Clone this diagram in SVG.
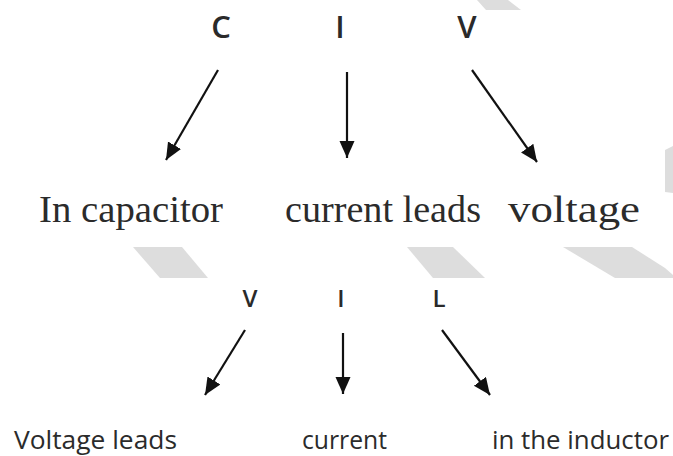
<svg xmlns="http://www.w3.org/2000/svg" width="673" height="456" viewBox="0 0 673 456">
<style>
.wm{fill:#dddddd}
.lbl{font-family:"Open Sans","Liberation Sans",sans-serif;font-weight:600;fill:#2a2a2a;text-anchor:middle}
.top{font-size:31px}
.bot{font-size:24px}
.ser{font-family:"Liberation Serif","DejaVu Serif",serif;font-size:38px;fill:#2b2b2b}
.san{font-family:"Open Sans","Liberation Sans",sans-serif;font-size:26px;fill:#2b2b2b}
.arr{stroke:#111;stroke-width:2.2;fill:none;marker-end:url(#ah)}
</style>
<defs>
<marker id="ah" markerUnits="userSpaceOnUse" markerWidth="19" markerHeight="17" refX="17" refY="7.5" orient="auto">
<path d="M0,0 L17,7.5 L0,15 z" fill="#111"/>
</marker>
</defs>
<rect width="673" height="456" fill="#ffffff"/>
<g id="watermark">
<polygon class="wm" points="477,0 508,0 521,10 486,10"/>
<polygon class="wm" points="665,150 673,146 673,193 665,192"/>
<polygon class="wm" points="133,247 182,247 208,278 160,278"/>
<polygon class="wm" points="407,247 453,247 485,278 433,278"/>
<polygon class="wm" points="563,247 632,247 665,268 673,275 673,278 615,278"/>
</g>
<g id="node-C"><text class="lbl top" x="221" y="38">C</text></g>
<g id="node-I1"><text class="lbl top" x="340" y="38">I</text></g>
<g id="node-V1"><text class="lbl top" x="467" y="38">V</text></g>
<g id="node-in-capacitor"><text class="ser" x="39" y="222" textLength="184" lengthAdjust="spacingAndGlyphs">In capacitor</text></g>
<g id="node-current-leads"><text class="ser" x="285" y="222" textLength="196" lengthAdjust="spacingAndGlyphs">current leads</text></g>
<g id="node-voltage"><text class="ser" x="508" y="222" textLength="132" lengthAdjust="spacingAndGlyphs">voltage</text></g>
<g id="node-V2"><text class="lbl bot" x="250" y="307">V</text></g>
<g id="node-I2"><text class="lbl bot" x="341" y="307">I</text></g>
<g id="node-L"><text class="lbl bot" x="439" y="307">L</text></g>
<g id="node-voltage-leads"><text class="san" x="14" y="449" textLength="163" lengthAdjust="spacingAndGlyphs">Voltage leads</text></g>
<g id="node-current"><text class="san" x="302" y="449" textLength="85" lengthAdjust="spacingAndGlyphs">current</text></g>
<g id="node-in-the-inductor"><text class="san" x="492" y="449" textLength="177" lengthAdjust="spacingAndGlyphs">in the inductor</text></g>
<g id="connectors">
<line class="arr" x1="218" y1="70" x2="166" y2="160"/>
<line class="arr" x1="347" y1="72" x2="347" y2="158"/>
<line class="arr" x1="472" y1="70" x2="537" y2="162"/>
<line class="arr" x1="245" y1="330" x2="205" y2="395"/>
<line class="arr" x1="343" y1="333" x2="343" y2="394"/>
<line class="arr" x1="442" y1="330" x2="490" y2="395"/>
</g>
</svg>
